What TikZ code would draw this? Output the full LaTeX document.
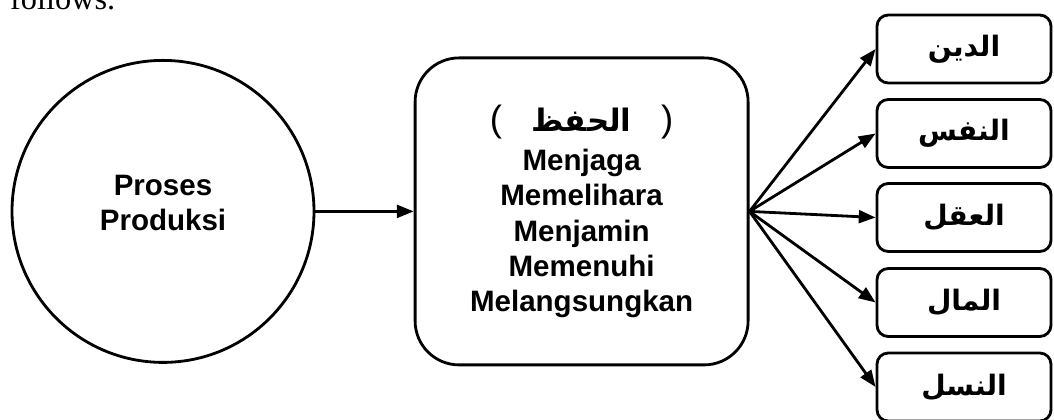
\documentclass[tikz,border=0pt]{standalone}
\usepackage{fontspec}
\setmainfont{Liberation Sans}
\newfontfamily\arabicfont[Script=Arabic]{DejaVu Sans}
\newfontfamily\seriffont{Liberation Serif}
\TeXXeTstate=1
\usepackage{tikz}
\usetikzlibrary{arrows.meta,positioning}

\begin{document}
\begin{tikzpicture}[font=\bfseries\fontsize{21}{25}\selectfont, line width=2pt,
        kotak/.style={draw, rounded corners=0.28cm, minimum width=4.35cm, minimum height=1.7cm},
        panah/.style={-{Triangle[length=0.42cm,width=0.32cm]}}]
    \useasboundingbox (0,0) rectangle (26.35,10.475);
    \clip (0,0) rectangle (26.35,10.475);
    \node[anchor=base west, font=\seriffont\fontsize{23}{27}\selectfont] (teks) at (0.1,10.225) {follows.};
    \node[draw, circle, minimum size=7.55cm, align=center] (proses) at (4.075,5.19) {Proses\\Produksi\\[-0.45cm]\mbox{}};
    % kurung di luar teks RTL
    \node[draw, rounded corners=1.1cm, minimum width=8.325cm, minimum height=7.675cm, align=center] (hifz) at (14.54,5.19)
        {\mbox{\mdseries\fontsize{26}{26}\selectfont(}\quad\mbox{\arabicfont\fontsize{22}{25}\selectfont\beginR الحفظ\endR}\quad\mbox{\mdseries\fontsize{26}{26}\selectfont)}\\[0.1cm]
         Menjaga\\Memelihara\\Menjamin\\Memenuhi\\Melangsungkan};
    \draw[panah] (proses) -- (hifz);
    \foreach \n/\y/\kata in {din/9.25/الدين,nafs/7.1375/النفس,aql/5.0375/العقل,mal/2.9125/المال,nasl/0.8/النسل} {
            \node[kotak] (\n) at (24.1,\y) {\arabicfont\fontsize{20}{24}\selectfont\beginR \kata\endR};
            \draw[panah] (hifz.east) -- (\n.west);
        }
\end{tikzpicture}
\end{document}
